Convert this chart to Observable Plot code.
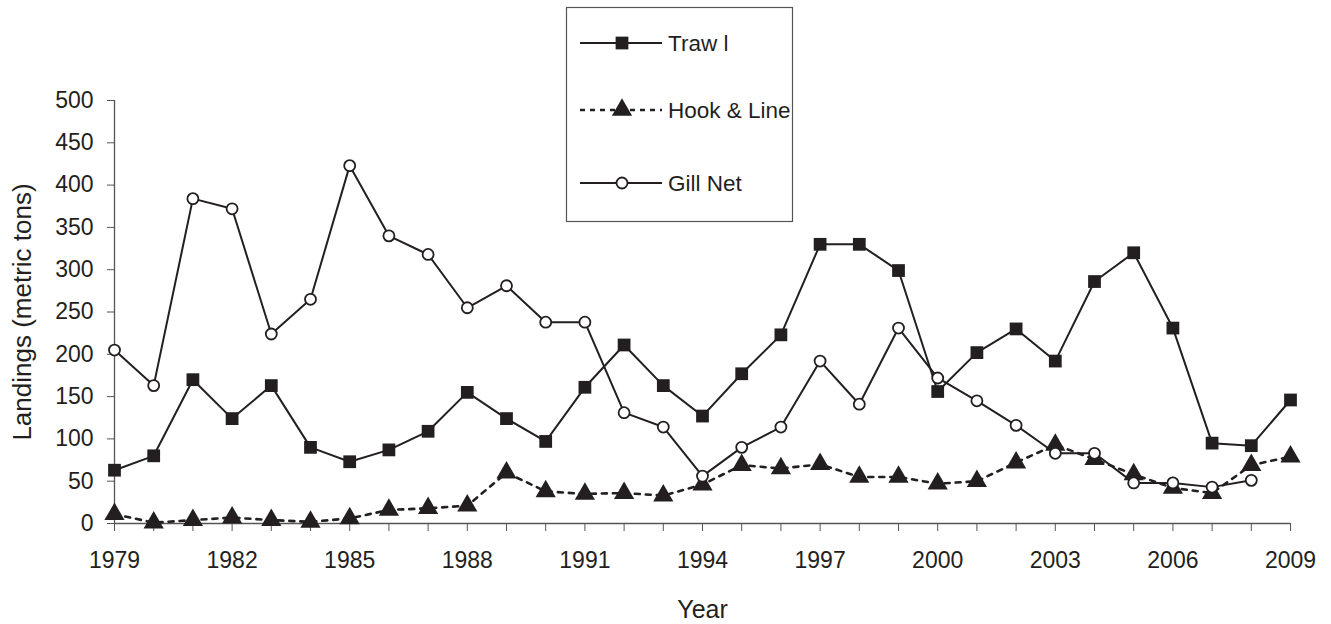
<!DOCTYPE html>
<html><head><meta charset="utf-8">
<script src="https://cdn.jsdelivr.net/npm/d3@7"></script>
<script src="https://cdn.jsdelivr.net/npm/@observablehq/plot@0.6"></script>
<style>
body{margin:0;background:#fff}
#wrap{position:relative;width:1331px;height:624px}
#legend{position:absolute;left:0;top:0;pointer-events:none}
</style>
</head><body><div id="wrap"></div>
<script>
const years = [1979,1980,1981,1982,1983,1984,1985,1986,1987,1988,1989,1990,1991,1992,1993,1994,1995,1996,1997,1998,1999,2000,2001,2002,2003,2004,2005,2006,2007,2008,2009];
const trawl = [63,80,170,124,163,90,73,87,109,155,124,97,161,211,163,127,177,223,330,330,299,156,202,230,192,286,320,231,95,92,146];
const hookLine = [11,1,4,7,4,2,6,16,18,21,60,38,35,36,33,46,69,65,70,55,55,47,50,72,93,76,58,42,36,69,79];
const gillNet = [205,163,384,372,224,265,423,340,318,255,281,238,238,131,114,56,90,114,192,141,231,172,145,116,83,83,48,48,43,51];
const seriesNames = ["Traw l", "Hook & Line", "Gill Net"];
const yTicks = [0,50,100,150,200,250,300,350,400,450,500];
const xLabelYears = [1979,1982,1985,1988,1991,1994,1997,2000,2003,2006,2009];

const ink = "#231f20";
const axisInk = "#555";
const font = "'Liberation Sans', Arial, sans-serif";

const toRows = (vals) => vals.map((v, i) => ({year: years[i], value: v}));
const trawlRows = toRows(trawl), hookRows = toRows(hookLine), gillRows = toRows(gillNet);

const chart = Plot.plot({
  width: 1331, height: 624,
  marginLeft: 114, marginRight: 41, marginTop: 100, marginBottom: 101,
  style: {fontFamily: font, fontSize: "23px", color: ink, background: "#fff"},
  x: {domain: [1979, 2009]},
  y: {domain: [0, 500]},
  marks: [
    Plot.ruleY([0], {stroke: axisInk, strokeWidth: 1.3}),
    Plot.ruleX([1979], {stroke: axisInk, strokeWidth: 1.3}),
    Plot.axisY({ticks: yTicks, tickSize: 7, tickPadding: 14, stroke: axisInk, fontSize: 23, label: null}),
    Plot.axisX({ticks: years, tickSize: 8, tickPadding: 20, stroke: axisInk, fontSize: 23, label: null,
      tickFormat: d => xLabelYears.includes(d) ? String(d) : ""}),
    Plot.text(["Landings (metric tons)"], {frameAnchor: "left", textAnchor: "middle", lineAnchor: "middle", rotate: -90, dx: -92, fontSize: 26, fill: ink}),
    Plot.text(["Year"], {frameAnchor: "bottom", dy: 94, fontSize: 25, fill: ink}),
    Plot.line(hookRows, {x: "year", y: "value", stroke: ink, strokeWidth: 2.6, strokeDasharray: "5,6"}),
    Plot.line(trawlRows, {x: "year", y: "value", stroke: ink, strokeWidth: 2}),
    Plot.line(gillRows, {x: "year", y: "value", stroke: ink, strokeWidth: 2}),
    Plot.dot(hookRows, {x: "year", y: "value", symbol: "triangle", r: 7.5, fill: ink, stroke: "none"}),
    Plot.dot(trawlRows, {x: "year", y: "value", symbol: "square", r: 7.2, fill: ink, stroke: "none"}),
    Plot.dot(gillRows, {x: "year", y: "value", symbol: "circle", r: 5.5, fill: "#fff", stroke: ink, strokeWidth: 1.8})
  ]
});
const wrap = document.getElementById("wrap");
wrap.appendChild(chart);

// legend box
const styles = [
  {dash: null, symbol: d3.symbolSquare, size: 7.2*7.2*Math.PI, fill: ink, stroke: "none", sw: 0},
  {dash: "5,5", symbol: d3.symbolTriangle, size: 7.5*7.5*Math.PI, fill: ink, stroke: "none", sw: 0},
  {dash: null, symbol: d3.symbolCircle, size: 5.5*5.5*Math.PI, fill: "#fff", stroke: ink, sw: 1.8}
];
const rowY = [43, 110, 183];
const leg = d3.select(wrap).append("svg").attr("id", "legend").attr("width", 1331).attr("height", 624)
  .style("font-family", font);
leg.append("rect").attr("x", 566.5).attr("y", 7.5).attr("width", 226).attr("height", 214)
  .attr("fill", "#fff").attr("stroke", axisInk).attr("stroke-width", 1.2);
seriesNames.forEach((name, i) => {
  const s = styles[i], y = rowY[i];
  const g = leg.append("g");
  g.append("line").attr("x1", 580).attr("x2", 662).attr("y1", y).attr("y2", y)
    .attr("stroke", ink).attr("stroke-width", s.dash ? 2.6 : 2).attr("stroke-dasharray", s.dash);
  g.append("path").attr("d", d3.symbol(s.symbol, s.size)()).attr("transform", `translate(622,${y})`)
    .attr("fill", s.fill).attr("stroke", s.stroke).attr("stroke-width", s.sw);
  g.append("text").attr("x", 668).attr("y", y).attr("dy", "0.35em").attr("font-size", 22.5).attr("fill", ink).text(name);
});
</script>
</body></html>
